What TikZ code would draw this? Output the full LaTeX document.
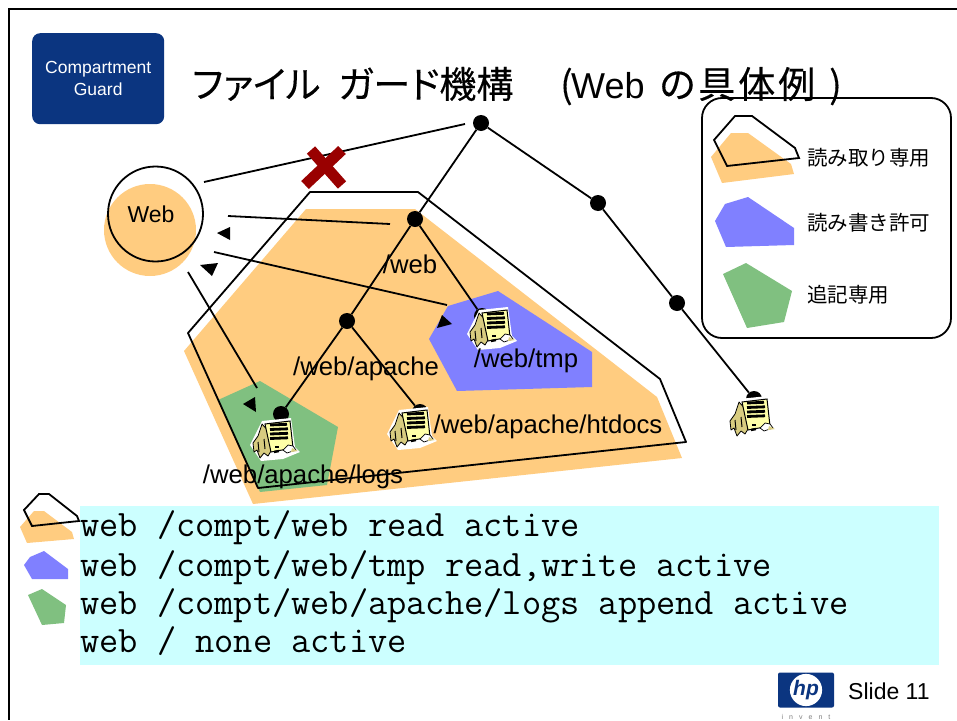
\documentclass[tikz,border=0pt]{standalone}
\usepackage{fontspec}
\setmainfont{Liberation Sans}
\newfontfamily\cjk{Noto Sans CJK JP}
\newfontfamily\titlefont[RawFeature=+palt,FakeBold=0.3]{Noto Sans CJK JP}
\definecolor{readcol}{HTML}{FFCC80}
\definecolor{writecol}{HTML}{8080FF}
\definecolor{appendcol}{HTML}{80C080}
\definecolor{guardblue}{HTML}{0B3580}
\definecolor{rulecyan}{HTML}{CCFFFF}
\definecolor{crosscol}{HTML}{990000}
\definecolor{pagecol}{HTML}{FFFFA8}
\definecolor{foldcol}{HTML}{D8CC80}
\tikzset{
  treedot/.style={circle,fill=black,inner sep=0pt,minimum size=16pt},
  pathlabel/.style={inner sep=0pt,font=\fontsize{25.7}{25.7}\selectfont},
  legendtext/.style={inner sep=0pt,anchor=west,font=\cjk\fontsize{20.5}{20.5}\selectfont},
  ruletext/.style={inner sep=0pt,anchor=base west,font=\ttfamily\fontsize{37.3}{37.3}\selectfont},
  titletext/.style={inner sep=0pt,anchor=base west,font=\titlefont\fontsize{37}{37}\selectfont},
  tip/.style={fill=black},
  docicon/.pic={
    \fill[white] (-13,-18) -- (16,-21) -- (20,8) -- (25,13) -- (8,20) -- (-14,22) -- (-25,6) -- cycle;
    \fill[foldcol,draw=black,line width=.8pt,line join=round] (-13,-15) -- (-17,-3) -- (-22,4) -- (-21,13) -- (-18,11) -- (-15,19) -- (-11,14) -- (-7,17) -- (-4,12) -- (-4,-5) -- cycle;
    \draw[black,line width=1pt] (-17,3) -- (-16,13);
    \draw[black,line width=1pt] (-11,0) -- (-10,10);
    \fill[pagecol,draw=black,line width=1pt] (-10,-15) -- (15,-18) -- (18,9) -- (-4,13) -- cycle;
    \foreach \liney/\lineend in {-14/12,-9.5/13,-5/13,-.5/13}{
      \draw[line width=2.8pt] (-5,\liney) -- (\lineend,\liney-.7);
    }
    \draw[line width=2.4pt] (0,8) -- (4,8);
    \draw[line width=2.4pt] (-1,13) -- (4,12);
    \fill[white,draw=black,line width=.7pt] (8,11) -- (13,6) -- (18,7) -- (21,11) -- (12,14) -- cycle;
    \fill[foldcol] (17,9) -- (23,12) -- (16,13) -- cycle;
  }
}
\begin{document}
\begin{tikzpicture}[x=1pt,y=-1pt]
  \useasboundingbox (0,0) rectangle (957,720);
  \fill[white] (0,0) rectangle (957,720);
  \draw[line width=2pt] (957,8.5) -- (8.5,8.5) -- (8.5,720);
  \fill[rulecyan] (80,506) rectangle (939,665);
  % regions
  \fill[readcol] (306,209) -- (415,209) -- (657,397) -- (682,458) -- (253,504) -- (184,351) -- cycle;
  \fill[writecol] (498,291) -- (592,352) -- (592,387) -- (457,391) -- (429,339) -- (448,306) -- cycle;
  \fill[appendcol] (260,381) -- (338,427) -- (327,485) -- (260,492) -- (218,400) -- cycle;
  \draw[line width=1.8pt,line join=round] (310,192) -- (418,192) -- (660,379) -- (686,442) -- (258,488) -- (188,333) -- cycle;
  \fill[readcol] (150,230) circle (46);
  \draw[line width=1.8pt] (155.5,214) circle (47.5);
  % legend
  \draw[line width=1.8pt,rounded corners=20pt] (702,98) rectangle (951,338);
  \fill[readcol] (731,133) -- (748,133) -- (791,164) -- (794,174) -- (722,183) -- (711,157) -- cycle;
  \draw[line width=1.8pt] (735,116) -- (752,116) -- (795,148) -- (799,158) -- (727,166) -- (714,140) -- cycle;
  \fill[writecol] (748,197) -- (794,228) -- (794,245) -- (726,247) -- (715,221) -- (725,204) -- cycle;
  \fill[appendcol] (746,263) -- (792,291) -- (784,322) -- (747,328) -- (723,274) -- cycle;
  \fill[readcol] (34,511) -- (44,511) -- (72,532) -- (74,539) -- (27,543) -- (20,527) -- cycle;
  \draw[line width=1.8pt] (39,494) -- (49,494) -- (77,516) -- (79,521) -- (32,526) -- (24,510) -- cycle;
  \fill[writecol] (44,551) -- (68,569) -- (68,579) -- (32,579) -- (24,565) -- (30,557) -- cycle;
  \fill[appendcol] (42,589) -- (66,605) -- (64,623) -- (42,625) -- (28,595) -- cycle;
  \draw
    (481,123) node[treedot] (root){}
    (415,219) node[treedot] (web){}
    (347,321) node[treedot] (apache){}
    (281,414) node[treedot] (logs){}
    (420,412) node[treedot] (htdocs){}
    (482,316) node[treedot] (tmp){}
    (598,203) node[treedot] (mid){}
    (677,303) node[treedot] (low){}
    (754,399) node[treedot] (leaf){}
    (204,182) coordinate (denyfrom)
    (465,124) coordinate (denyto)
    (228,216) coordinate (readfrom)
    (390,224) coordinate (readto)
    (214,252) coordinate (writefrom)
    (447,305) coordinate (writeto)
    (188,272) coordinate (appendfrom)
    (257,388) coordinate (appendto);
  \begin{scope}[line width=1.8pt]
    \draw (root) to (web);
    \draw (web) to (apache);
    \draw (web) to (tmp);
    \draw (apache) to (logs);
    \draw (apache) to (htdocs);
    \draw (root) to (mid);
    \draw (mid) to (low);
    \draw (low) to (leaf);
    \draw (denyfrom) to (denyto);
    \draw (readfrom) to (readto);
    \draw (writefrom) to (writeto);
    \draw (appendfrom) to (appendto);
  \end{scope}
  \fill[tip] (217,233) -- (230,227) -- (230,240) -- cycle;
  \fill[tip] (200,265) -- (218,263) -- (212,276) -- cycle;
  \fill[tip] (243,404) -- (255,397) -- (256,412) -- cycle;
  \fill[tip] (437,328) -- (442,315) -- (452,324) -- cycle;
  \draw[crosscol,line width=11pt] (305,185) -- (342,150);
  \draw[crosscol,line width=11pt] (311,150) -- (342,185);
  \pic at (275,439) {docicon};
  \pic at (412,428) {docicon};
  \pic at (492,328) {docicon};
  \pic at (752,417) {docicon};
  % texts
  \draw
    (32,33) node[anchor=north west,fill=guardblue,rounded corners=8pt,minimum width=132pt,minimum height=91pt,inner sep=0pt,text=white,align=center,font=\fontsize{17.5}{22}\selectfont] (guard){Compartment\\Guard}
    (192,98) node[titletext] (title){ファイル\hspace{18pt}ガード機構}
    (560,98) node[titletext] (titlesub){(\hspace{-1.5pt}{\rmfamily\fontsize{36}{36}\selectfont Web}\hspace{15pt}の\hspace{3pt}具\hspace{3pt}体\hspace{3pt}例\hspace{14pt})}
    (151,214) node[inner sep=0pt,font=\fontsize{23}{23}\selectfont] (weblabel){Web}
    (410,264) node[pathlabel] (webpath){/web}
    (366,369) node[pathlabel] (apachepath){/web/apache}
    (526,361) node[pathlabel] (tmppath){/web/tmp}
    (548,427) node[pathlabel] (htdocspath){/web/apache/htdocs}
    (303,477) node[pathlabel] (logspath){/web/apache/logs}
    (807,158) node[legendtext] (readlegend){読み取り専用}
    (807,223) node[legendtext] (writelegend){読み書き許可}
    (807,295) node[legendtext] (appendlegend){追記専用}
    (80,536) node[ruletext] (ruleone){web /compt/web read active}
    (80,576) node[ruletext] (ruletwo){web /compt/web/tmp read,write active}
    (80,614) node[ruletext] (rulethree){web /compt/web/apache/logs append active}
    (80,652) node[ruletext] (rulefour){web / none active}
    (848,691) node[anchor=west,inner sep=0pt,font=\fontsize{23}{23}\selectfont] (slide){Slide 11}
    (806,690) node[fill=guardblue,rounded corners=2pt,minimum width=56pt,minimum height=35pt,inner sep=0pt] (logobox){}
    (806,690) node[circle,fill=white,minimum size=30pt,inner sep=0pt,text=guardblue,font=\bfseries\itshape\fontsize{21}{21}\selectfont] (logotext){hp}
    (806,717) node[inner sep=0pt,text=gray,font=\fontsize{7}{7}\selectfont] (invent){i\hspace{6pt}n\hspace{6pt}v\hspace{6pt}e\hspace{6pt}n\hspace{6pt}t};
\end{tikzpicture}
\end{document}
